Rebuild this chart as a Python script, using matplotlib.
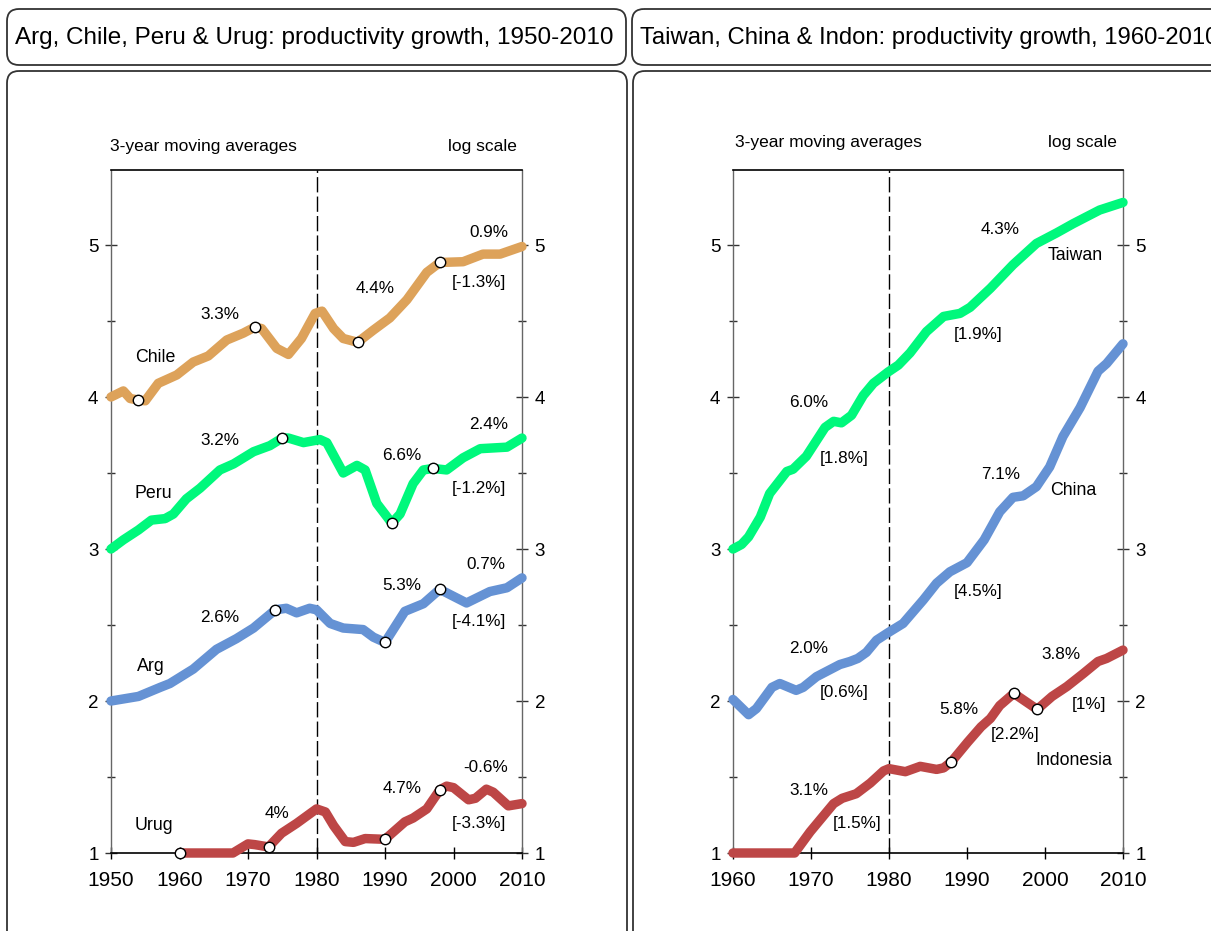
import numpy as np
import matplotlib
matplotlib.use("Agg")
import matplotlib.pyplot as plt
from matplotlib.patches import FancyBboxPatch
from matplotlib.ticker import MultipleLocator

plt.rcParams['font.family'] = ['Liberation Sans', 'DejaVu Sans']

# ---------------- data: 3-year moving averages, log-scale index units ----------------
chile_years = [1950, 1951.8, 1952.8, 1954, 1955, 1956.9, 1959.6, 1962, 1964.2, 1966.9, 1969.3,
               1971, 1972, 1974.2, 1975.9, 1977.8, 1979.8, 1980.8, 1982.5, 1983.9, 1986,
               1988.3, 1990.7, 1993.2, 1996.1, 1998, 2001.4, 2004.3, 2006.8, 2010]
chile_vals = [4.00, 4.04, 3.99, 3.98, 3.975, 4.09, 4.145, 4.23, 4.27, 4.375, 4.42,
              4.46, 4.45, 4.32, 4.28, 4.385, 4.55, 4.565, 4.45, 4.385, 4.36,
              4.44, 4.52, 4.64, 4.82, 4.885, 4.89, 4.94, 4.94, 4.99]

peru_years = [1950, 1951.8, 1954, 1955.9, 1957.9, 1959.1, 1961, 1963, 1965.9, 1967.9, 1970.8,
              1973.2, 1975, 1975.9, 1978.1, 1980.5, 1981.5, 1983.9, 1985.9, 1987.1, 1988.8,
              1991, 1992.2, 1994.1, 1995.6, 1997, 1999, 2001.4, 2003.9, 2007.8, 2010]
peru_vals = [3.00, 3.06, 3.125, 3.19, 3.20, 3.23, 3.33, 3.40, 3.52, 3.56, 3.64,
             3.68, 3.73, 3.73, 3.70, 3.72, 3.70, 3.50, 3.55, 3.52, 3.30,
             3.17, 3.23, 3.43, 3.52, 3.53, 3.52, 3.60, 3.66, 3.67, 3.73]

arg_years = [1950, 1954, 1957.2, 1958.6, 1962, 1965.4, 1968.3, 1970.8, 1974, 1975.6, 1977.1,
             1979, 1980, 1982, 1983.9, 1986.8, 1988.3, 1990, 1992.9, 1995.6, 1998, 1999.5,
             2001.9, 2005.3, 2007.8, 2010]
arg_vals = [2.00, 2.03, 2.09, 2.115, 2.21, 2.34, 2.41, 2.48, 2.60, 2.61, 2.58,
            2.61, 2.60, 2.51, 2.48, 2.47, 2.42, 2.385, 2.59, 2.64, 2.735, 2.70,
            2.645, 2.72, 2.745, 2.81]

urug_years = [1960, 1967.8, 1970, 1971, 1973, 1974.9, 1977.1, 1980, 1981.3, 1982.5, 1984.2,
              1985.4, 1987.1, 1990, 1992.9, 1994.1, 1996.1, 1998, 1999, 2000, 2002.2, 2003.2,
              2004.8, 2005.8, 2008, 2010]
urug_vals = [1.00, 1.00, 1.06, 1.055, 1.04, 1.13, 1.195, 1.29, 1.27, 1.18, 1.075,
             1.07, 1.095, 1.09, 1.205, 1.23, 1.29, 1.415, 1.44, 1.43, 1.35, 1.36,
             1.42, 1.40, 1.31, 1.325]

taiwan_years = [1960, 1961.1, 1962, 1963.5, 1964.7, 1966.9, 1967.7, 1969.4, 1971.8, 1972.9,
                1973.9, 1975.2, 1976.7, 1978, 1979.9, 1981.2, 1982.7, 1984.8, 1987, 1989.1,
                1990.4, 1993, 1995.9, 1998.9, 2001.5, 2003.6, 2007, 2010]
taiwan_vals = [3.00, 3.03, 3.08, 3.21, 3.365, 3.51, 3.525, 3.61, 3.80, 3.84,
               3.83, 3.88, 4.01, 4.09, 4.165, 4.21, 4.29, 4.43, 4.53, 4.55,
               4.59, 4.715, 4.87, 5.01, 5.08, 5.14, 5.23, 5.28]

china_years = [1960, 1962, 1963, 1965, 1966, 1968.1, 1969, 1970.7, 1973.7, 1975, 1976, 1977.1,
               1978.4, 1979.9, 1981.8, 1984.4, 1986.1, 1987.8, 1990, 1992.2, 1994.2, 1995.9,
               1997.2, 1998.9, 2000.6, 2002.3, 2004.5, 2006.8, 2007.9, 2010]
china_vals = [2.01, 1.91, 1.95, 2.09, 2.115, 2.07, 2.09, 2.16, 2.24, 2.26, 2.28, 2.32,
              2.40, 2.45, 2.51, 2.665, 2.775, 2.85, 2.91, 3.06, 3.245, 3.34,
              3.35, 3.41, 3.54, 3.74, 3.93, 4.17, 4.22, 4.35]

indon_years = [1960, 1967.9, 1969.9, 1972.9, 1974, 1975.8, 1977.6, 1979.3, 1980, 1982.1, 1984,
               1986.1, 1987, 1988, 1990.1, 1991.8, 1993, 1994.2, 1996, 1999, 2000.9, 2002.8,
               2004.9, 2006.8, 2007.9, 2010]
indon_vals = [1.00, 1.00, 1.14, 1.325, 1.36, 1.39, 1.46, 1.54, 1.555, 1.535, 1.57,
              1.55, 1.56, 1.60, 1.73, 1.83, 1.885, 1.97, 2.05, 1.945, 2.03, 2.095,
              2.18, 2.26, 2.28, 2.335]

# break-point years (open circles)
chile_breaks = [1954, 1971, 1986, 1998]
peru_breaks = [1975, 1991, 1997]
arg_breaks = [1974, 1990, 1998]
urug_breaks = [1960, 1973, 1990, 1998]
indon_breaks = [1988, 1996, 1999]

# labels: (text, x, y, horizontal alignment)
left_labels = [
    ("Chile", 1953.5, 4.263, "left"), ("Peru", 1953.5, 3.368, "left"),
    ("Arg", 1953.8, 2.23, "left"), ("Urug", 1953.5, 1.178, "left"),
    ("3.3%", 1965.9, 4.546, "center"), ("4.4%", 1988.5, 4.717, "center"),
    ("0.9%", 2005.1, 5.079, "center"), ("[-1.3%]", 2003.7, 4.752, "center"),
    ("3.2%", 1965.9, 3.713, "center"), ("6.6%", 1992.5, 3.614, "center"),
    ("2.4%", 2005.1, 3.816, "center"), ("[-1.2%]", 2003.7, 3.399, "center"),
    ("2.6%", 1965.9, 2.551, "center"), ("5.3%", 1992.5, 2.757, "center"),
    ("0.7%", 2004.7, 2.895, "center"), ("[-4.1%]", 2003.7, 2.526, "center"),
    ("4%", 1974.2, 1.257, "center"), ("4.7%", 1992.5, 1.426, "center"),
    ("-0.6%", 2004.7, 1.56, "center"), ("[-3.3%]", 2003.7, 1.195, "center"),
]
right_labels = [
    ("Taiwan", 2000.3, 4.928, "left"), ("China", 2000.6, 3.388, "left"),
    ("Indonesia", 1998.8, 1.607, "left"),
    ("4.3%", 1994.3, 5.105, "center"), ("[1.9%]", 1991.4, 4.414, "center"),
    ("6.0%", 1969.7, 3.965, "center"), ("[1.8%]", 1974.3, 3.597, "center"),
    ("7.1%", 1994.3, 3.491, "center"), ("[4.5%]", 1991.4, 2.719, "center"),
    ("2.0%", 1969.7, 2.347, "center"), ("[0.6%]", 1974.3, 2.057, "center"),
    ("3.8%", 2002.0, 2.303, "center"), ("[1%]", 2005.7, 1.978, "center"),
    ("5.8%", 1989.0, 1.941, "center"), ("[2.2%]", 1996.2, 1.781, "center"),
    ("3.1%", 1969.7, 1.409, "center"), ("[1.5%]", 1975.9, 1.191, "center"),
]

titles = ["Arg, Chile, Peru & Urug: productivity growth, 1950-2010",
          "Taiwan, China & Indon: productivity growth, 1960-2010"]

C_ORANGE = "#DDA25A"
C_GREEN = "#00F87C"
C_BLUE = "#6592D4"
C_RED = "#BD4646"

W, H = 1211, 931
fig = plt.figure(figsize=(W / 100, H / 100), dpi=100)
fig.patch.set_facecolor("white")

# overlay in pixel coordinates for the rounded frames and titles
bg = fig.add_axes([0, 0, 1, 1], zorder=0)
bg.set_xlim(0, W)
bg.set_ylim(H, 0)
bg.axis("off")


def frame(x0, y0, x1, y1):
    bg.add_patch(FancyBboxPatch((x0, y0), x1 - x0, y1 - y0,
                                boxstyle="round,pad=0,rounding_size=12",
                                fc="none", ec="#333333", lw=1.3, clip_on=False))


frame(7, 9, 626, 65)
frame(7, 71, 627, 960)
frame(632, 9, 1240, 65)
frame(633, 71, 1240, 960)
bg.text(15, 38, titles[0], fontsize=17.5, ha="left", va="center")
bg.text(640, 38, titles[1], fontsize=17.2, ha="left", va="center")

YTOP = 1 + (853 - 170) / 152.0
NOTE_FS = 12.5
PCT_FS = 12.3
NAME_FS = 12.8


def px_axes(x0, x1):
    return fig.add_axes([x0 / W, (H - 853) / H, (x1 - x0) / W, (853 - 170) / H], zorder=2)


def style(ax, x0, x1, xticks):
    ax.set_facecolor("none")
    ax.set_xlim(x0, x1)
    ax.set_ylim(1, YTOP)
    ax.set_xticks(xticks)
    ax.set_yticks([1, 2, 3, 4, 5])
    ax.yaxis.set_minor_locator(MultipleLocator(0.5))
    ax.tick_params(axis="x", direction="inout", length=8, width=1, labelsize=15, pad=9,
                   top=False, colors="black")
    ax.tick_params(axis="y", which="major", direction="inout", length=8, width=1,
                   labelsize=13.5, left=True, right=True, labelleft=True, labelright=True,
                   pad=5, color="#333333")
    ax.tick_params(axis="y", which="minor", direction="inout", length=6, width=1,
                   left=True, right=True, color="#333333")
    for s in ["left", "right"]:
        ax.spines[s].set_color("#666666")
        ax.spines[s].set_linewidth(1.0)
    for s in ["top", "bottom"]:
        ax.spines[s].set_color("black")
        ax.spines[s].set_linewidth(1.2)
    ax.axvline(1980, color="black", lw=1.0, dashes=(11, 3), zorder=1)


def series(ax, years, vals, color, breaks=()):
    ax.plot(years, vals, color=color, lw=6.8, solid_capstyle="round",
            solid_joinstyle="round", zorder=3, clip_on=False)
    if breaks:
        by = np.interp(breaks, years, vals)
        ax.plot(breaks, by, "o", ms=7.5, mfc="white", mec="black", mew=1.0, zorder=4,
                clip_on=False)


def annotate(ax, labels):
    for t, x, y, ha in labels:
        ax.text(x, y, t, fontsize=NAME_FS if ha == "left" else PCT_FS, ha=ha, va="center",
                zorder=5)


# ---------------- left panel ----------------
axL = px_axes(111, 522)
style(axL, 1950, 2010, [1950, 1960, 1970, 1980, 1990, 2000, 2010])
series(axL, chile_years, chile_vals, C_ORANGE, chile_breaks)
series(axL, peru_years, peru_vals, C_GREEN, peru_breaks)
series(axL, arg_years, arg_vals, C_BLUE, arg_breaks)
series(axL, urug_years, urug_vals, C_RED, urug_breaks)
annotate(axL, left_labels)
axL.text(1949.9, 1 + (853 - 146) / 152, "3-year moving averages", fontsize=NOTE_FS,
         ha="left", va="center", clip_on=False)
axL.text(2009.3, 1 + (853 - 146) / 152, "log scale", fontsize=NOTE_FS,
         ha="right", va="center", clip_on=False)

# ---------------- right panel ----------------
axR = px_axes(733, 1123)
style(axR, 1960, 2010, [1960, 1970, 1980, 1990, 2000, 2010])
series(axR, taiwan_years, taiwan_vals, C_GREEN)
series(axR, china_years, china_vals, C_BLUE)
series(axR, indon_years, indon_vals, C_RED, indon_breaks)
annotate(axR, right_labels)
axR.text(1960.3, 1 + (853 - 142) / 152, "3-year moving averages", fontsize=NOTE_FS,
         ha="left", va="center", clip_on=False)
axR.text(2009.2, 1 + (853 - 142) / 152, "log scale", fontsize=NOTE_FS,
         ha="right", va="center", clip_on=False)

fig.savefig("out.png", dpi=100, facecolor="white")
